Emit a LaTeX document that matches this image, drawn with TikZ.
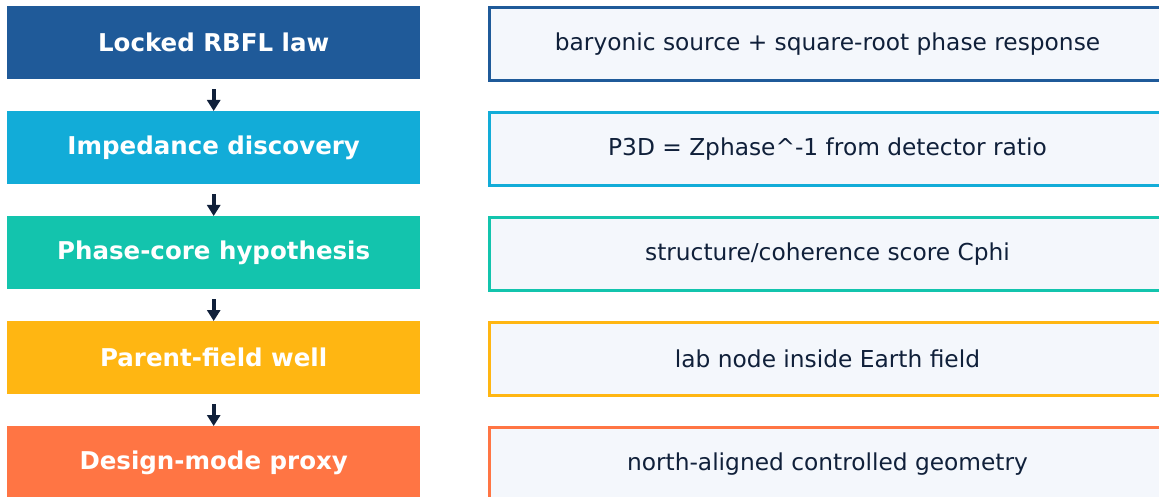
\documentclass[tikz,border=0pt]{standalone}
\usepackage{fontspec}
\setmainfont{DejaVu Sans}
\usetikzlibrary{arrows.meta}
\definecolor{cA}{HTML}{1F5A99}
\definecolor{cB}{HTML}{12ACD8}
\definecolor{cC}{HTML}{13C4AD}
\definecolor{cD}{HTML}{FFB612}
\definecolor{cE}{HTML}{FF7544}
\definecolor{rfill}{HTML}{F4F7FC}
\definecolor{ink}{HTML}{10203A}
\tikzset{
  leftbox/.style={fill=#1, draw=none, minimum width=413pt, minimum height=73pt, inner sep=0pt,
    text=white, font=\fontsize{24.5}{28}\selectfont\bfseries, anchor=north west},
  rightbox/.style={fill=rfill, draw=#1, line width=3pt, minimum width=676pt, minimum height=73pt, inner sep=0pt,
    text=ink, font=\fontsize{23.3}{27}\selectfont, anchor=north west},
  arr/.style={draw=ink, line width=3.6pt, shorten <=10pt, -{Triangle[width=13pt,length=11pt]}},
}
\begin{document}
\begin{tikzpicture}[x=1pt,y=-1pt]
\useasboundingbox (0,0) rectangle (1159,497);
\clip (0,0) rectangle (1159,497);
\node[leftbox=cA] (l1) at (7,6) {Locked RBFL law};
\node[leftbox=cB] (l2) at (7,111) {Impedance discovery};
\node[leftbox=cC] (l3) at (7,216) {Phase-core hypothesis};
\node[leftbox=cD] (l4) at (7,321) {Parent-field well};
\node[leftbox=cE] (l5) at (7,426) {Design-mode proxy};
\node[rightbox=cA] (r1) at (488,6) {baryonic source + square-root phase response};
\node[rightbox=cB] (r2) at (488,111) {P3D = Zphase\textasciicircum-1 from detector ratio};
\node[rightbox=cC] (r3) at (488,216) {structure/coherence score Cphi};
\node[rightbox=cD] (r4) at (488,321) {lab node inside Earth field};
\node[rightbox=cE] (r5) at (488,426) {north-aligned controlled geometry};
\draw[arr] (l1.south) -- (l2.north);
\draw[arr] (l2.south) -- (l3.north);
\draw[arr] (l3.south) -- (l4.north);
\draw[arr] (l4.south) -- (l5.north);
\end{tikzpicture}
\end{document}
